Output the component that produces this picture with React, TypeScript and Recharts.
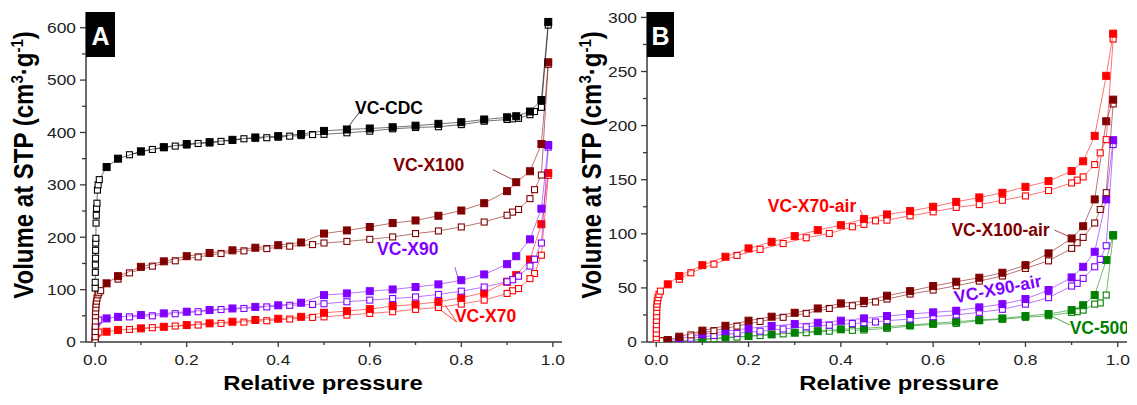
import React from 'react';
import { ScatterChart, Scatter, XAxis, YAxis, ReferenceLine } from 'recharts';

type Pt = [number, number];

// ---------- axis ticks ----------
const xTicks = [0, 0.1, 0.2, 0.3, 0.4, 0.5, 0.6, 0.7, 0.8, 0.9, 1.0];
const yTicksA = [0, 50, 100, 150, 200, 250, 300, 350, 400, 450, 500, 550, 600];
const yTicksB = [0, 25, 50, 75, 100, 125, 150, 175, 200, 225, 250, 275, 300];

// ---------- Panel A ----------
const cdcLow: Pt[] = [[0.0001, 103], [0.0002, 114], [0.0004, 133], [0.0006, 147], [0.0008, 160], [0.001, 175], [0.0012, 189], [0.0015, 198], [0.002, 227], [0.0025, 242], [0.003, 255], [0.004, 265], [0.005, 290], [0.0065, 300], [0.009, 310]];
const cdcAds: Pt[] = [[0.025, 334], [0.05, 350], [0.1, 364], [0.15, 372], [0.2, 378], [0.25, 381.5], [0.3, 386], [0.35, 390.5], [0.4, 393], [0.45, 397], [0.5, 403], [0.55, 405.7], [0.6, 407.6], [0.65, 410], [0.7, 413], [0.75, 416.5], [0.8, 419.6], [0.85, 424.8], [0.9, 429], [0.92, 431], [0.95, 440], [0.975, 462], [0.99, 611]];
const cdcDes: Pt[] = [[0.99, 605], [0.975, 448], [0.96, 440], [0.95, 434], [0.925, 427], [0.912, 426], [0.9, 424.8], [0.85, 421.5], [0.8, 415], [0.75, 411], [0.7, 409.5], [0.65, 407], [0.6, 402.5], [0.55, 399.4], [0.5, 396.5], [0.475, 396], [0.45, 394], [0.425, 393], [0.4, 391], [0.375, 390], [0.35, 389], [0.325, 388], [0.3, 385], [0.275, 383], [0.25, 380], [0.225, 379], [0.2, 376], [0.175, 374], [0.15, 371], [0.125, 367.6], [0.1, 363], [0.075, 357.5]];

const x100Low: Pt[] = [[0.0001, 3], [0.0002, 10], [0.0003, 20], [0.0004, 30], [0.0005, 40], [0.0007, 50], [0.001, 58], [0.0015, 65], [0.002, 72], [0.003, 78], [0.004, 84], [0.006, 90], [0.008, 94], [0.012, 98]];
const x100Ads: Pt[] = [[0.025, 112], [0.05, 125.7], [0.1, 143.5], [0.15, 154], [0.2, 163.8], [0.25, 170], [0.3, 175], [0.35, 180], [0.4, 184.8], [0.45, 190], [0.5, 207], [0.55, 213], [0.6, 219.6], [0.65, 227], [0.7, 232], [0.75, 241], [0.8, 251], [0.85, 265], [0.9, 288], [0.92, 305], [0.95, 326], [0.975, 378], [0.99, 534]];
const x100Des: Pt[] = [[0.99, 530], [0.975, 318.7], [0.96, 290.8], [0.95, 273.7], [0.925, 253], [0.912, 248], [0.9, 242], [0.85, 229], [0.8, 219.6], [0.75, 212], [0.7, 207], [0.65, 200.6], [0.6, 196], [0.55, 192], [0.5, 189], [0.475, 186], [0.425, 183], [0.375, 178.4], [0.325, 174], [0.275, 169], [0.225, 162.5], [0.175, 155], [0.125, 144.8], [0.075, 132], [0.05, 120]];

const x90Low: Pt[] = [[0.0001, 18], [0.0003, 24], [0.0006, 28], [0.001, 32], [0.002, 36], [0.004, 39], [0.008, 42]];
const x90Ads: Pt[] = [[0.025, 45], [0.05, 48], [0.1, 51.4], [0.15, 54.6], [0.2, 57.8], [0.25, 61], [0.3, 64], [0.35, 67], [0.4, 70], [0.45, 75], [0.5, 89.5], [0.55, 92.7], [0.6, 97], [0.65, 100.3], [0.7, 105], [0.75, 110], [0.8, 118], [0.85, 129], [0.9, 148.6], [0.92, 163.8], [0.95, 196], [0.975, 254.6], [0.99, 376]];
const x90Des: Pt[] = [[0.99, 372], [0.975, 189], [0.96, 158], [0.95, 145], [0.925, 125.7], [0.912, 119], [0.9, 115], [0.85, 105], [0.8, 97], [0.75, 90.8], [0.7, 86], [0.65, 83], [0.6, 80], [0.55, 76.8], [0.5, 73], [0.475, 71.7], [0.425, 70], [0.375, 67], [0.325, 64], [0.275, 62], [0.225, 57.8], [0.175, 54], [0.125, 50], [0.075, 48]];

const x70Low: Pt[] = [[0.0001, 0.5], [0.0002, 3], [0.0004, 6], [0.0007, 9], [0.001, 12], [0.002, 15], [0.004, 17], [0.008, 19]];
const x70Ads: Pt[] = [[0.025, 19.7], [0.05, 22.8], [0.1, 26], [0.15, 29], [0.2, 32.4], [0.25, 35.6], [0.3, 38.7], [0.35, 42], [0.4, 44.4], [0.45, 48], [0.5, 55.8], [0.55, 59], [0.6, 62.8], [0.65, 68.6], [0.7, 71.7], [0.75, 76.8], [0.8, 84.4], [0.85, 94], [0.9, 115], [0.92, 127.6], [0.95, 157.5], [0.975, 224.8], [0.99, 322.5]];
const x70Des: Pt[] = [[0.99, 318], [0.975, 165.7], [0.96, 130.8], [0.95, 121], [0.925, 102], [0.912, 97.8], [0.9, 92.7], [0.85, 80], [0.8, 72.4], [0.75, 66], [0.7, 62.3], [0.65, 57.8], [0.6, 54.6], [0.55, 51.4], [0.5, 48], [0.475, 47], [0.425, 43.8], [0.375, 40.6], [0.325, 38], [0.275, 35.6], [0.225, 32.4], [0.175, 30.5], [0.125, 27.3], [0.075, 24]];

// ---------- Panel B ----------
const x70aLow: Pt[] = [[0.0001, 0.5], [0.0002, 4], [0.0003, 8], [0.0004, 12], [0.0005, 16], [0.0006, 20], [0.0008, 24], [0.001, 28], [0.0013, 32], [0.0017, 35], [0.0025, 38], [0.004, 41], [0.006, 44], [0.009, 47]];
const x70aAds: Pt[] = [[0.025, 53.3], [0.05, 61], [0.1, 71], [0.15, 78.8], [0.2, 86.5], [0.25, 92.6], [0.3, 97.9], [0.35, 103.4], [0.4, 108], [0.45, 113.6], [0.5, 117.9], [0.55, 121], [0.6, 125], [0.65, 129.5], [0.7, 133.6], [0.75, 137.9], [0.8, 143.4], [0.85, 148.7], [0.9, 158], [0.925, 167], [0.95, 190.5], [0.975, 246], [0.99, 285]];
const x70aDes: Pt[] = [[0.99, 280], [0.975, 187], [0.962, 174.8], [0.95, 164], [0.925, 152.6], [0.912, 149.6], [0.9, 147], [0.85, 140], [0.8, 135], [0.75, 131], [0.7, 127], [0.65, 124.4], [0.6, 120.3], [0.55, 116.6], [0.5, 112.6], [0.475, 112], [0.45, 108.7], [0.425, 106.5], [0.375, 100.3], [0.325, 96.3], [0.275, 91], [0.225, 85.6], [0.175, 80], [0.125, 72], [0.075, 64], [0.05, 58]];

const x100aLow: Pt[] = [[0.002, 0.5], [0.01, 1.2]];
const x100aAds: Pt[] = [[0.025, 1.8], [0.05, 4.9], [0.1, 10.5], [0.15, 15], [0.2, 19.7], [0.25, 23.4], [0.3, 27], [0.35, 31], [0.4, 35.7], [0.45, 38], [0.5, 42.8], [0.55, 47], [0.6, 51.7], [0.65, 55.7], [0.7, 59.4], [0.75, 64], [0.8, 71], [0.85, 81.9], [0.9, 95.7], [0.925, 107], [0.95, 131.8], [0.975, 204], [0.99, 224]];
const x100aDes: Pt[] = [[0.99, 220], [0.975, 138], [0.962, 122.5], [0.95, 110], [0.925, 96.7], [0.912, 91.7], [0.9, 86.5], [0.85, 75], [0.8, 68], [0.75, 61], [0.7, 56.3], [0.65, 52], [0.6, 48], [0.55, 44.3], [0.5, 39.7], [0.475, 37], [0.45, 35.5], [0.425, 33.5], [0.375, 31], [0.325, 26.5], [0.275, 22.8], [0.225, 19], [0.175, 14.7], [0.125, 10.5], [0.075, 6.5]];

const x90aLow: Pt[] = [[0.005, 0.4]];
const x90aAds: Pt[] = [[0.025, 1], [0.05, 3], [0.1, 7], [0.15, 10], [0.2, 12.6], [0.25, 14.8], [0.3, 16.6], [0.35, 17.8], [0.4, 19.7], [0.45, 21.8], [0.5, 24], [0.55, 25.9], [0.6, 27.4], [0.65, 28.9], [0.7, 32], [0.75, 35], [0.8, 39.7], [0.85, 48], [0.9, 59.7], [0.925, 69.5], [0.95, 83.4], [0.975, 131.8], [0.99, 186.5]];
const x90aDes: Pt[] = [[0.99, 182.5], [0.975, 89], [0.962, 76.4], [0.95, 69.5], [0.925, 58.8], [0.912, 54.2], [0.9, 51.7], [0.85, 41], [0.8, 35], [0.75, 30.2], [0.7, 27.4], [0.65, 25], [0.6, 23.4], [0.55, 21.2], [0.5, 19.7], [0.475, 18.5], [0.45, 17.8], [0.425, 17], [0.375, 15.5], [0.325, 14], [0.275, 12], [0.225, 10], [0.175, 8], [0.125, 6], [0.075, 3.5]];

const v500Low: Pt[] = [[0.005, 0.2]];
const v500Ads: Pt[] = [[0.025, 0.3], [0.05, 1], [0.1, 2.5], [0.15, 4.3], [0.2, 5.5], [0.25, 7], [0.3, 8.6], [0.35, 10], [0.4, 11.7], [0.45, 12.6], [0.5, 14.1], [0.55, 15.7], [0.6, 17.2], [0.65, 18.8], [0.7, 20.3], [0.75, 21.8], [0.8, 24], [0.85, 25.9], [0.9, 29.5], [0.925, 34], [0.95, 43.4], [0.975, 75.7], [0.99, 98.8]];
const v500Des: Pt[] = [[0.99, 98], [0.975, 43.4], [0.962, 36.1], [0.95, 35], [0.925, 29.5], [0.912, 28], [0.9, 27.4], [0.85, 24.3], [0.8, 22.8], [0.75, 21], [0.7, 19.7], [0.65, 17.2], [0.6, 16.3], [0.55, 14.8], [0.5, 12.6], [0.45, 11.1], [0.425, 10.8], [0.375, 10], [0.325, 8.6], [0.275, 7.5], [0.225, 6], [0.175, 4.5], [0.125, 3], [0.075, 1.5]];

// ---------- annotations ----------
const labelsA = [
  { text: 'VC-CDC', x: 0.642, y: 447, color: '#000000' },
  { text: 'VC-X100', x: 0.729, y: 337, color: '#800000' },
  { text: 'VC-X90', x: 0.683, y: 178, color: '#8000FF' },
  { text: 'VC-X70', x: 0.853, y: 50, color: '#FF0000' },
];
const leadersA = [
  { from: [0.58, 442], to: [0.55, 407], color: '#000000' },
  { from: [0.869, 329], to: [0.917, 308], color: '#800000' },
  { from: [0.786, 143], to: [0.793, 122], color: '#8000FF' },
  { from: [0.79, 38], to: [0.75, 64], color: '#FF0000' },
  { from: [0.79, 38], to: [0.765, 70], color: '#FF0000' },
];
const labelsB = [
  { text: 'VC-X70-air', x: 0.3375, y: 125.6, color: '#FF0000', rot: 0 },
  { text: 'VC-X100-air', x: 0.746, y: 103.4, color: '#800000', rot: 0 },
  { text: 'VC-X90-air', x: 0.74, y: 49, color: '#8000FF', rot: -11 },
  { text: 'VC-500', x: 0.96, y: 13, color: '#008000', rot: 0 },
];
const leadersB = [
  { from: [0.442, 122], to: [0.45, 114.5], color: '#FF0000' },
  { from: [0.863, 103.4], to: [0.897, 97], color: '#800000' },
  { from: [0.859, 23.4], to: [0.896, 15.7], color: '#008000' },
];

const FONT = '"Liberation Sans", Arial, Helvetica, sans-serif';
const AXIS = '#3a3a3a';

const toPoints = (low: Pt[], main: Pt[]) => [
  ...low.map(([x, y]) => ({ x, y, open: true })),
  ...main.map(([x, y]) => ({ x, y, open: false })),
];
const toOpen = (pts: Pt[]) => pts.map(([x, y]) => ({ x, y, open: true }));

const squareShape = (color: string) => (props: any) => {
  const { cx, cy, payload } = props;
  if (cx == null || cy == null) return <g />;
  const open = payload && payload.open;
  const s = open ? 6 : 7;
  return (
    <rect
      x={cx - s / 2}
      y={cy - s / 2}
      width={s}
      height={s}
      fill={open ? '#ffffff' : color}
      stroke={color}
      strokeWidth={open ? 1.1 : 1}
    />
  );
};

const LabelShape = (props: any) => {
  const { cx, cy, payload } = props;
  if (cx == null || cy == null) return <g />;
  return (
    <text
      x={cx}
      y={cy}
      textAnchor="middle"
      dominantBaseline="central"
      fill={payload.color}
      fontFamily={FONT}
      fontWeight="bold"
      fontSize={17.5}
      transform={payload.rot ? `rotate(${payload.rot},${cx},${cy})` : undefined}
    >
      {payload.text}
    </text>
  );
};

const XTick = (props: any) => {
  const { x, y, payload } = props;
  const v = payload.value as number;
  const major = Math.round(v * 10) % 2 === 0;
  return (
    <g>
      <line x1={x} x2={x} y1={y} y2={y + (major ? 5 : 3)} stroke={AXIS} strokeWidth={1.3} />
      {major && (
        <text
          transform={`translate(${x},${y + 23}) scale(1.2,1)`}
          textAnchor="middle"
          fontFamily={FONT}
          fontSize={14.5}
          fill="#222"
        >
          {v.toFixed(1)}
        </text>
      )}
    </g>
  );
};

const makeYTick = (step: number) => (props: any) => {
  const { x, y, payload } = props;
  const v = payload.value as number;
  const major = v % step === 0;
  return (
    <g>
      <line x1={x - (major ? 6 : 4)} x2={x} y1={y} y2={y} stroke={AXIS} strokeWidth={1.3} />
      {major && (
        <text
          transform={`translate(${x - 10},${y + 5.3}) scale(1.2,1)`}
          textAnchor="end"
          fontFamily={FONT}
          fontSize={14.5}
          fill="#222"
        >
          {v}
        </text>
      )}
    </g>
  );
};

type Series = { low: Pt[]; ads: Pt[]; des: Pt[]; color: string };

const seriesA: Series[] = [
  { low: x70Low, ads: x70Ads, des: x70Des, color: '#FF0000' },
  { low: x90Low, ads: x90Ads, des: x90Des, color: '#8000FF' },
  { low: x100Low, ads: x100Ads, des: x100Des, color: '#800000' },
  { low: cdcLow, ads: cdcAds, des: cdcDes, color: '#000000' },
];
const seriesB: Series[] = [
  { low: v500Low, ads: v500Ads, des: v500Des, color: '#008000' },
  { low: x90aLow, ads: x90aAds, des: x90aDes, color: '#8000FF' },
  { low: x100aLow, ads: x100aAds, des: x100aDes, color: '#800000' },
  { low: x70aLow, ads: x70aAds, des: x70aDes, color: '#FF0000' },
];

const renderSeries = (list: Series[], prefix: string) =>
  list.flatMap((s, i) => [
    <Scatter
      key={`${prefix}d${i}`}
      data={toOpen(s.des)}
      dataKey="y"
      line={{ stroke: s.color, strokeWidth: 1, strokeOpacity: 0.55 }}
      lineType="joint"
      shape={squareShape(s.color)}
      isAnimationActive={false}
    />,
    <Scatter
      key={`${prefix}a${i}`}
      data={toPoints(s.low, s.ads)}
      dataKey="y"
      line={{ stroke: s.color, strokeWidth: 1, strokeOpacity: 0.55 }}
      lineType="joint"
      shape={squareShape(s.color)}
      isAnimationActive={false}
    />,
  ]);

const renderLeaders = (list: { from: number[]; to: number[]; color: string }[], prefix: string) =>
  list.map((l, i) => (
    <ReferenceLine
      key={`${prefix}l${i}`}
      segment={[{ x: l.from[0], y: l.from[1] }, { x: l.to[0], y: l.to[1] }]}
      stroke={l.color}
      strokeWidth={1}
      strokeOpacity={0.7}
    />
  ));

const Panel = ({
  width,
  rightMargin,
  yWidth,
  yMax,
  yTicks,
  yStep,
  series,
  labels,
  leaders,
  prefix,
}: {
  width: number;
  rightMargin: number;
  yWidth: number;
  yMax: number;
  yTicks: number[];
  yStep: number;
  series: Series[];
  labels: any[];
  leaders: any[];
  prefix: string;
}) => (
  <ScatterChart
    width={width}
    height={405}
    margin={{ top: 12, right: rightMargin, bottom: 23, left: 0 }}
    style={{ overflow: 'visible' }}
  >
    <XAxis
      type="number"
      dataKey="x"
      domain={[-0.02, 1.02]}
      ticks={xTicks}
      interval={0}
      tickSize={0}
      tickMargin={0}
      tickLine={false}
      tick={<XTick />}
      axisLine={{ stroke: AXIS, strokeWidth: 1.5 }}
      height={40}
      allowDataOverflow
    />
    <YAxis
      type="number"
      dataKey="y"
      domain={[0, yMax]}
      ticks={yTicks}
      interval={0}
      tickSize={0}
      tickMargin={0}
      tickLine={false}
      tick={makeYTick(yStep)}
      axisLine={{ stroke: AXIS, strokeWidth: 1.5 }}
      width={yWidth}
      allowDataOverflow
    />
    {renderLeaders(leaders, prefix)}
    {renderSeries(series, prefix)}
    <Scatter data={labels} dataKey="y" shape={LabelShape} isAnimationActive={false} />
  </ScatterChart>
);

const YTitle = ({ x }: { x: number }) => (
  <text
    transform={`translate(${x},165) scale(1.16,1) rotate(-90)`}
    textAnchor="middle"
    fontFamily={FONT}
    fontWeight="bold"
    fontSize={24}
    fill="#000"
  >
    Volume at STP (cm
    <tspan dy={-9} fontSize={15}>3</tspan>
    <tspan dy={9}>·g</tspan>
    <tspan dy={-9} fontSize={15}>-1</tspan>
    <tspan dy={9}>)</tspan>
  </text>
);

const XTitle = ({ x }: { x: number }) => (
  <text
    transform={`translate(${x},390) scale(1.14,1)`}
    textAnchor="middle"
    fontFamily={FONT}
    fontWeight="bold"
    fontSize={21}
    fill="#000"
  >
    Relative pressure
  </text>
);

const PanelTag = ({ x, w, letter }: { x: number; w: number; letter: string }) => (
  <g>
    <rect x={x} y={12} width={w} height={45} fill="#000" />
    <text x={x + w / 2} y={45} textAnchor="middle" fontFamily={FONT} fontWeight="bold" fontSize={25} fill="#fff">
      {letter}
    </text>
  </g>
);

export default function App() {
  return (
    <div style={{ position: 'absolute', left: 0, top: 0, width: 1137, height: 405, background: '#fff', overflow: 'hidden' }}>
      <div style={{ position: 'absolute', left: 0, top: 0 }}>
        <Panel
          width={574}
          rightMargin={12}
          yWidth={86}
          yMax={630}
          yTicks={yTicksA}
          yStep={100}
          series={seriesA}
          labels={labelsA}
          leaders={leadersA}
          prefix="A"
        />
      </div>
      <div style={{ position: 'absolute', left: 577, top: 0 }}>
        <Panel
          width={556}
          rightMargin={6}
          yWidth={70}
          yMax={305}
          yTicks={yTicksB}
          yStep={50}
          series={seriesB}
          labels={labelsB}
          leaders={leadersB}
          prefix="B"
        />
      </div>
      <svg
        width={1137}
        height={405}
        style={{ position: 'absolute', left: 0, top: 0, pointerEvents: 'none', overflow: 'visible' }}
      >
        <YTitle x={33} />
        <YTitle x={601} />
        <XTitle x={323} />
        <XTitle x={899} />
        <PanelTag x={86} w={29} letter="A" />
        <PanelTag x={647} w={27} letter="B" />
      </svg>
    </div>
  );
}
